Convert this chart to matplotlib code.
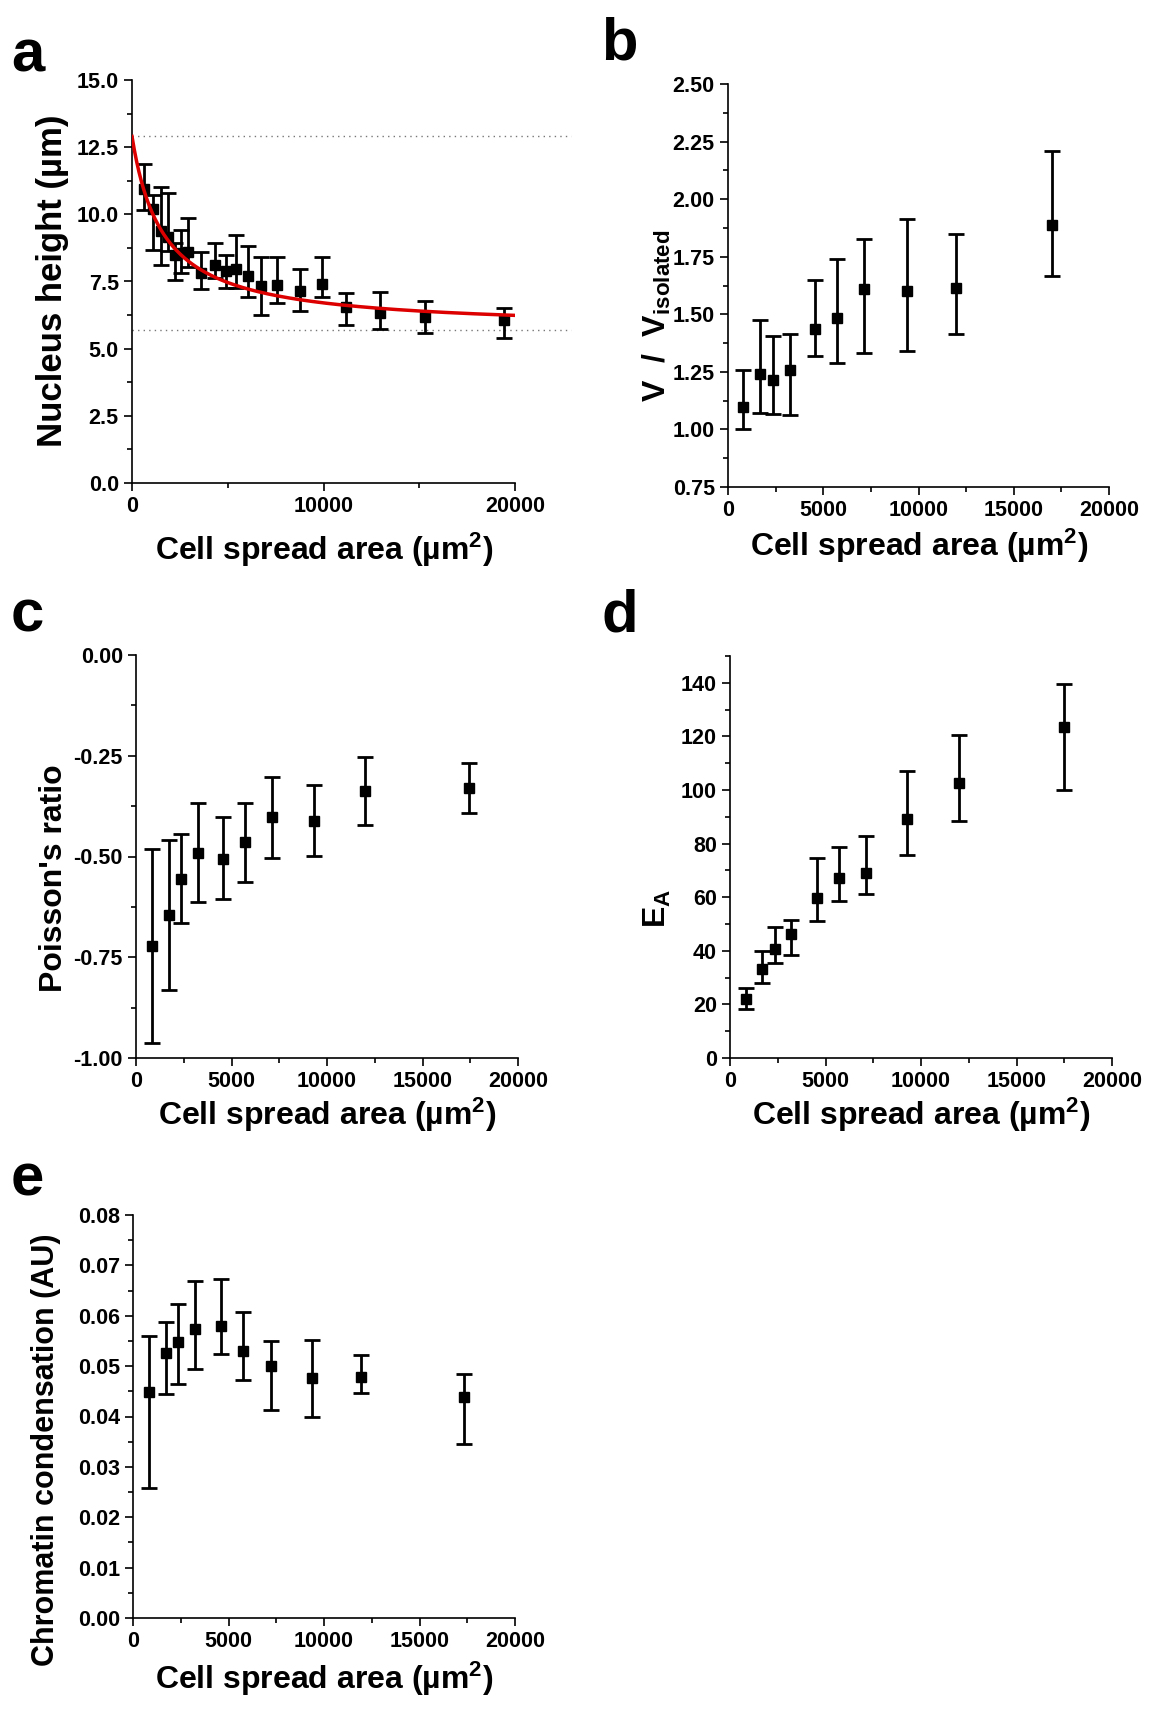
import numpy as np
import matplotlib
matplotlib.use('Agg')
import matplotlib.pyplot as plt
from matplotlib.ticker import MultipleLocator, FormatStrFormatter

# ---------------- data ----------------
# panel a: nucleus height vs cell spread area
area_a = [627, 1080, 1540, 1890, 2250, 2560, 2940, 3600, 4350, 4890,
          5430, 6080, 6720, 7580, 8750, 9910, 11190, 12930, 15280, 19400]
height_a = [10.95, 10.18, 9.38, 9.15, 8.48, 8.55, 8.60, 7.83, 8.11, 7.90,
            7.97, 7.70, 7.33, 7.38, 7.14, 7.41, 6.55, 6.33, 6.19, 6.07]
height_a_hi = [11.88, 10.73, 11.03, 10.80, 8.95, 9.41, 9.85, 8.58, 8.93, 8.49,
               9.24, 8.83, 8.40, 8.42, 7.95, 8.42, 7.07, 7.12, 6.79, 6.51]
height_a_lo = [10.15, 8.66, 8.13, 8.62, 7.55, 7.83, 8.05, 7.21, 7.64, 7.27,
               7.25, 6.94, 6.25, 6.71, 6.39, 6.94, 5.89, 5.74, 5.57, 5.41]
# fit parameters of the red curve and the dotted reference levels
fit_h0 = 12.9
fit_hinf = 5.7
fit_k = 1620.0

# panel b: V / V_isolated
area_b = [790, 1700, 2360, 3230, 4550, 5730, 7120, 9390, 11980, 17010]
vol_b = [1.098, 1.240, 1.214, 1.260, 1.438, 1.484, 1.611, 1.602, 1.615, 1.889]
vol_b_hi = [1.260, 1.477, 1.406, 1.416, 1.651, 1.738, 1.826, 1.913, 1.847, 2.209]
vol_b_lo = [1.001, 1.073, 1.066, 1.062, 1.319, 1.290, 1.334, 1.340, 1.414, 1.667]

# panel c: Poisson's ratio
area_c = [840, 1730, 2340, 3230, 4570, 5700, 7130, 9310, 11980, 17440]
pois_c = [-0.723, -0.646, -0.555, -0.492, -0.505, -0.465, -0.402, -0.412, -0.338, -0.331]
pois_c_hi = [-0.482, -0.460, -0.445, -0.368, -0.402, -0.368, -0.302, -0.322, -0.254, -0.269]
pois_c_lo = [-0.963, -0.831, -0.664, -0.614, -0.606, -0.564, -0.504, -0.498, -0.421, -0.391]

# panel d: E_A
area_d = [840, 1690, 2350, 3210, 4550, 5700, 7130, 9290, 11980, 17470]
ea_d = [22.2, 33.3, 40.7, 46.3, 59.6, 67.3, 69.2, 89.2, 102.6, 123.5]
ea_d_hi = [26.3, 39.8, 48.7, 51.6, 74.8, 78.6, 83.0, 107.0, 120.6, 139.4]
ea_d_lo = [18.4, 28.0, 35.4, 38.6, 51.2, 58.4, 61.2, 75.8, 88.3, 100.0]

# panel e: chromatin condensation
area_e = [840, 1710, 2370, 3240, 4600, 5740, 7220, 9350, 11930, 17350]
chrom_e = [0.0449, 0.0526, 0.0548, 0.0573, 0.0579, 0.0531, 0.0500, 0.0476, 0.0479, 0.0439]
chrom_e_hi = [0.0560, 0.0588, 0.0623, 0.0668, 0.0672, 0.0608, 0.0549, 0.0551, 0.0522, 0.0485]
chrom_e_lo = [0.0259, 0.0444, 0.0465, 0.0495, 0.0524, 0.0473, 0.0412, 0.0399, 0.0446, 0.0346]

xlabel_text = "Cell spread area (\u00b5m$^{2}$)"

# ---------------- style ----------------
W, H = 1152, 1709
plt.rcParams['font.family'] = ['Liberation Sans', 'DejaVu Sans']
plt.rcParams['font.weight'] = 'bold'
plt.rcParams['mathtext.fontset'] = 'custom'
plt.rcParams['mathtext.rm'] = 'Liberation Sans:bold'
plt.rcParams['mathtext.it'] = 'Liberation Sans:bold'
plt.rcParams['mathtext.bf'] = 'Liberation Sans:bold'
plt.rcParams['mathtext.default'] = 'rm'
plt.rcParams['axes.unicode_minus'] = False

fig = plt.figure(figsize=(W / 100, H / 100), dpi=100)

TICK_FS = 15.5
LABEL_FS = 23
LETTER_FS = 43


def px_axes(l, t, r, b):
    return fig.add_axes([l / W, 1 - b / H, (r - l) / W, (b - t) / H])


def style(ax):
    for s in ('top', 'right'):
        ax.spines[s].set_visible(False)
    for s in ('left', 'bottom'):
        ax.spines[s].set_linewidth(1.2)
    ax.tick_params(which='both', direction='out', width=1.2, labelsize=TICK_FS, pad=3.5)
    ax.tick_params(which='major', length=6)
    ax.tick_params(which='minor', length=3.5)
    for lab in ax.get_xticklabels() + ax.get_yticklabels():
        lab.set_fontweight('bold')


def errplot(ax, x, y, hi, lo):
    y = np.asarray(y)
    yerr = [y - np.asarray(lo), np.asarray(hi) - y]
    ax.errorbar(x, y, yerr=yerr, fmt='s', color='black', ms=6.8,
                elinewidth=2.0, capsize=5.5, capthick=2.0, zorder=2)


def xlabel_at(cx, base):
    fig.text(cx / W, 1 - base / H, xlabel_text, ha='center', va='baseline',
             fontsize=LABEL_FS, fontweight='bold')


def ylabel_at(text, base_x, cy, fs=LABEL_FS):
    fig.text(base_x / W, 1 - cy / H, text, ha='center', va='baseline',
             rotation=90, rotation_mode='anchor', fontsize=fs, fontweight='bold')


def letter_at(text, x, base):
    fig.text(x / W, 1 - base / H, text, ha='left', va='baseline',
             fontsize=LETTER_FS, fontweight='bold')


# ---------------- panel a ----------------
ax = px_axes(132, 80, 515, 483)
errplot(ax, area_a, height_a, height_a_hi, height_a_lo)
xf = np.linspace(0, 20000, 500)
yf = fit_hinf + (fit_h0 - fit_hinf) / (1 + xf / fit_k)
ax.plot(xf, yf, color='#dd0000', lw=2.5, zorder=3)
for lvl in (fit_h0, fit_hinf):
    ax.plot([0, 22900], [lvl, lvl], color='#777777', lw=1.0,
            ls=(0, (1, 3)), clip_on=False, zorder=1)
ax.set_xlim(0, 20000)
ax.set_ylim(0, 15)
ax.xaxis.set_major_locator(MultipleLocator(10000))
ax.xaxis.set_minor_locator(MultipleLocator(5000))
ax.yaxis.set_major_locator(MultipleLocator(2.5))
ax.yaxis.set_minor_locator(MultipleLocator(1.25))
ax.yaxis.set_major_formatter(FormatStrFormatter('%.1f'))
style(ax)
xlabel_at(324, 560)
ylabel_at("Nucleus height (\u00b5m)", 62, 281, fs=25)
letter_at("a", 11, 71)

# ---------------- panel b ----------------
ax = px_axes(728, 84, 1109, 487)
errplot(ax, area_b, vol_b, vol_b_hi, vol_b_lo)
ax.set_xlim(0, 20000)
ax.set_ylim(0.75, 2.5)
ax.xaxis.set_major_locator(MultipleLocator(5000))
ax.xaxis.set_minor_locator(MultipleLocator(2500))
ax.yaxis.set_major_locator(MultipleLocator(0.25))
ax.yaxis.set_minor_locator(MultipleLocator(0.125))
ax.yaxis.set_major_formatter(FormatStrFormatter('%.2f'))
style(ax)
xlabel_at(919, 556)
ylabel_at("V  /  V$_{\\mathrm{isolated}}$", 666, 316)
letter_at("b", 601, 60)

# ---------------- panel c ----------------
ax = px_axes(136, 655, 518, 1058)
errplot(ax, area_c, pois_c, pois_c_hi, pois_c_lo)
ax.set_xlim(0, 20000)
ax.set_ylim(-1.0, 0.0)
ax.xaxis.set_major_locator(MultipleLocator(5000))
ax.xaxis.set_minor_locator(MultipleLocator(2500))
ax.yaxis.set_major_locator(MultipleLocator(0.25))
ax.yaxis.set_minor_locator(MultipleLocator(0.125))
ax.yaxis.set_major_formatter(FormatStrFormatter('%.2f'))
style(ax)
xlabel_at(327, 1125)
ylabel_at("Poisson's ratio", 62, 878)
letter_at("c", 11, 632)

# ---------------- panel d ----------------
ax = px_axes(730, 656, 1112, 1058)
errplot(ax, area_d, ea_d, ea_d_hi, ea_d_lo)
ax.set_xlim(0, 20000)
ax.set_ylim(0, 150)
ax.xaxis.set_major_locator(MultipleLocator(5000))
ax.xaxis.set_minor_locator(MultipleLocator(2500))
ax.yaxis.set_major_locator(plt.FixedLocator(np.arange(0, 141, 20)))
ax.yaxis.set_minor_locator(plt.FixedLocator(np.arange(10, 151, 20)))
style(ax)
xlabel_at(921, 1125)
ylabel_at("E$_{\\mathrm{A}}$", 666, 908)
letter_at("d", 601, 632)

# ---------------- panel e ----------------
ax = px_axes(133, 1215, 515, 1618)
errplot(ax, area_e, chrom_e, chrom_e_hi, chrom_e_lo)
ax.set_xlim(0, 20000)
ax.set_ylim(0, 0.08)
ax.xaxis.set_major_locator(MultipleLocator(5000))
ax.xaxis.set_minor_locator(MultipleLocator(2500))
ax.yaxis.set_major_locator(MultipleLocator(0.01))
ax.yaxis.set_minor_locator(MultipleLocator(0.005))
ax.yaxis.set_major_formatter(FormatStrFormatter('%.2f'))
style(ax)
xlabel_at(324, 1689)
ylabel_at("Chromatin condensation (AU)", 54, 1450, fs=22)
letter_at("e", 11, 1195)

fig.savefig('out.png', dpi=100)
